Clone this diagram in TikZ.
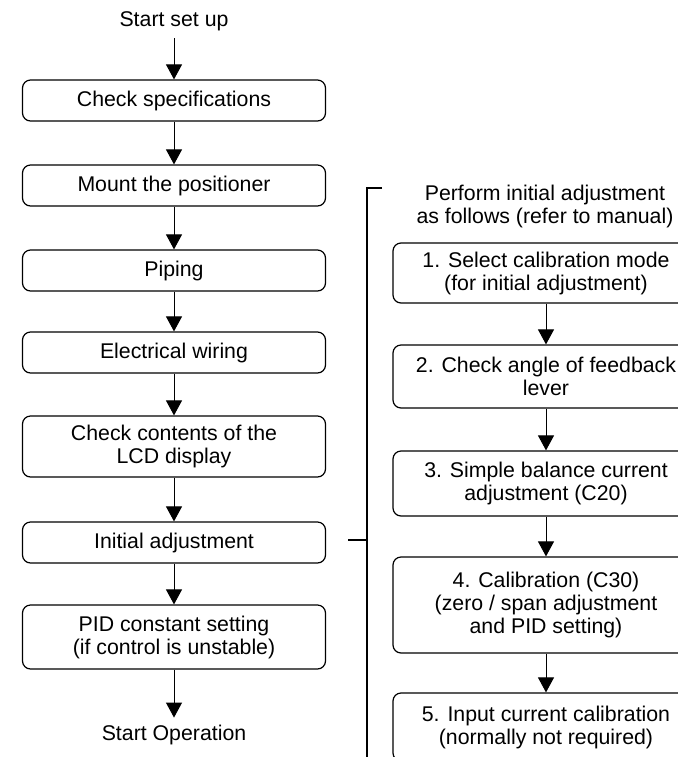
\documentclass[tikz,border=0pt]{standalone}
\usepackage{fontspec}
\setmainfont{Liberation Sans}
\usetikzlibrary{arrows.meta}
\tikzset{
  stepbox/.style={draw, line width=0.6pt, rounded corners=4pt, inner sep=0pt,
    align=center, minimum width=151.5pt},
  substep/.style={stepbox, minimum width=153pt},
  flow/.style={line width=0.5pt, -{Triangle[length=7.5pt,width=8pt]}}
}

\begin{document}
\begin{tikzpicture}[x=0.5pt,y=-0.5pt]
\fontsize{10.65}{11.5}\selectfont
\clip (0,0) rectangle (678,757);
% main sequence
\node (start) at (174,21) {Start set up};
\node[stepbox, minimum height=20.5pt] (spec) at (174,100.5) {Check specifications};
\node[stepbox, minimum height=20.5pt] (mount) at (174,185.5) {Mount the positioner};
\node[stepbox, minimum height=20.5pt] (pipe) at (174,270.5) {Piping};
\node[stepbox, minimum height=20.5pt] (wire) at (174,352.5) {Electrical wiring};
\node[stepbox, minimum height=30.5pt] (lcd) at (174,446.5) {Check contents of the\\LCD display};
\node[stepbox, minimum height=20.5pt] (init) at (174,542.5) {Initial adjustment};
\node[stepbox, minimum height=32pt] (pid) at (174,637) {PID constant setting\\(if control is unstable)};
\node (oper) at (174,735) {Start Operation};
\draw[flow] (start) -- (spec);
\draw[flow] (spec) -- (mount);
\draw[flow] (mount) -- (pipe);
\draw[flow] (pipe) -- (wire);
\draw[flow] (wire) -- (lcd);
\draw[flow] (lcd) -- (init);
\draw[flow] (init) -- (pid);
\draw[flow] (pid) -- (oper);
% initial adjustment details
\coordinate (brtop) at (382,188);
\coordinate (brcorner) at (367,188);
\coordinate (brend) at (367,760);
\coordinate (brmid) at (367,540);
\coordinate (brtick) at (348,540);
\draw[line width=1pt] (brtop) -- (brcorner) -- (brend);
\draw[line width=1pt] (brtick) -- (brmid);
\node[align=center] (note) at (545,206.5) {Perform initial adjustment\\as follows (refer to manual)};
\node[substep, minimum height=30pt] (mode) at (546,273) {1. Select calibration mode\\(for initial adjustment)};
\node[substep, minimum height=31.5pt] (lever) at (546,376.5) {2. Check angle of feedback\\lever};
\node[substep, minimum height=32.5pt] (bal) at (546,483.5) {3. Simple balance current\\adjustment (C20)};
\node[substep, minimum height=48pt] (cal) at (546,605) {4. Calibration (C30)\\(zero / span adjustment\\and PID setting)};
\node[substep, minimum height=34pt] (input) at (546,727) {5. Input current calibration\\(normally not required)};
\draw[flow] (mode) -- (lever);
\draw[flow] (lever) -- (bal);
\draw[flow] (bal) -- (cal);
\draw[flow] (cal) -- (input);
\end{tikzpicture}
\end{document}
